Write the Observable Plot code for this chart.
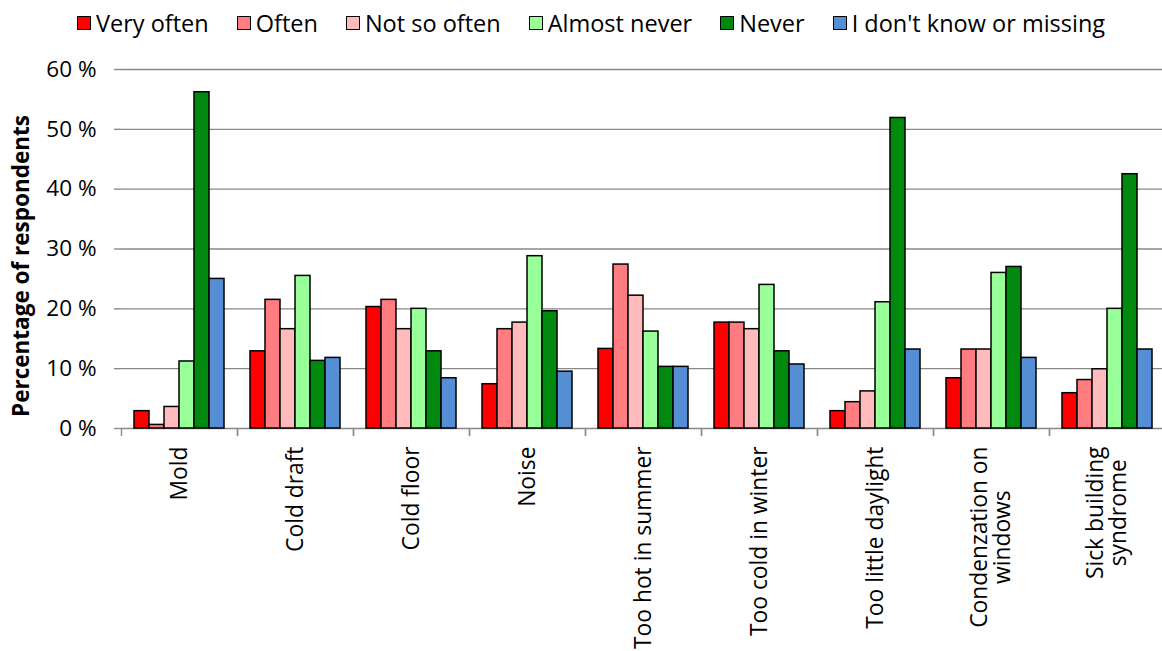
<!DOCTYPE html>
<html><head><meta charset="utf-8">
<script src="https://cdn.jsdelivr.net/npm/d3@7"></script>
<script src="https://cdn.jsdelivr.net/npm/@observablehq/plot@0.6"></script>
<style>
html,body{margin:0;padding:0;background:#fff;overflow:hidden;}
body{width:1162px;height:651px;position:relative;font-family:"Open Sans",sans-serif;}
#legend{position:absolute;left:77px;top:0;height:45px;display:flex;align-items:center;gap:28px;font-size:23.5px;color:#000;white-space:nowrap;}
.item{display:flex;align-items:center;gap:5px;}
.sw{width:12px;height:12px;border:1.5px solid #000;}
#ytitle{position:absolute;left:19.5px;top:266px;transform:translate(-50%,-50%) rotate(-90deg);font-weight:bold;font-size:22.5px;white-space:nowrap;}
#chart{position:absolute;left:0;top:45px;}
</style></head>
<body>
<div id="legend"></div>
<div id="ytitle">Percentage of respondents</div>
<div id="chart"></div>
<script>
const categories = ["Mold","Cold draft","Cold floor","Noise","Too hot in summer","Too cold in winter","Too little daylight","Condenzation on\nwindows","Sick building\nsyndrome"];
const series = ["Very often","Often","Not so often","Almost never","Never","I don't know or missing"];
const colors = ["#FF0000","#FF7C80","#FFBBBB","#99FF99","#00890F","#558ED5"];
const veryOften   = [2.9, 12.9, 20.3, 7.4, 13.3, 17.7, 2.9, 8.4, 5.9];
const often       = [0.6, 21.5, 21.5, 16.6, 27.4, 17.7, 4.4, 13.2, 8.1];
const notSoOften  = [3.6, 16.6, 16.6, 17.7, 22.2, 16.6, 6.2, 13.2, 9.9];
const almostNever = [11.2, 25.5, 20.0, 28.8, 16.2, 24.0, 21.1, 26.0, 20.0];
const never       = [56.2, 11.3, 12.9, 19.6, 10.3, 12.9, 51.9, 27.0, 42.5];
const missing     = [25.0, 11.8, 8.4, 9.5, 10.3, 10.7, 13.2, 11.8, 13.2];
const yTicks = [0, 10, 20, 30, 40, 50, 60];

const values = [veryOften, often, notSoOften, almostNever, never, missing];
const data = categories.flatMap((c, i) => series.map((s, j) => ({category: c, series: s, value: values[j][i]})));

// legend
const legend = document.getElementById("legend");
series.forEach((s, j) => {
  const it = document.createElement("div"); it.className = "item";
  const sw = document.createElement("div"); sw.className = "sw"; sw.style.background = colors[j];
  const tx = document.createElement("span"); tx.textContent = s;
  it.appendChild(sw); it.appendChild(tx); legend.appendChild(it);
});

const grid = "#888888";
const tickShape = {draw(context, l) { context.moveTo(0, 0); context.lineTo(0, -l); }};

const chart = Plot.plot({
  width: 1162, height: 606,
  marginTop: 24, marginBottom: 223, marginLeft: 117, marginRight: -6,
  style: {fontFamily: "'Open Sans', sans-serif", color: "#000", background: "transparent"},
  fx: {domain: categories, paddingInner: 0, paddingOuter: 0, label: null},
  x: {domain: series, paddingInner: 0, paddingOuter: 0.74, axis: null},
  y: {domain: [0, 60]},
  color: {domain: series, range: colors},
  marks: [
    Plot.ruleY(yTicks, {stroke: grid, strokeWidth: 1.4}),
    Plot.vector([0], {frameAnchor: "bottom-left", length: 7, rotate: 180, anchor: "start", shape: tickShape, stroke: grid, strokeWidth: 1.4}),
    Plot.vector([0], {frameAnchor: "bottom-right", length: 7, rotate: 180, anchor: "start", shape: tickShape, stroke: grid, strokeWidth: 1.4}),
    Plot.barY(data, {fx: "category", x: "series", y: "value", fill: "series", stroke: "#000", strokeWidth: 1.5}),
    Plot.axisY({ticks: yTicks, tickSize: 7, line: true, stroke: grid, strokeWidth: 1.4, text: null, label: null}),
    Plot.axisY({ticks: yTicks, tickFormat: d => `${d} %`, tickSize: 0, tickPadding: 25, fontSize: 22.5, label: null, fill: "#000"}),
    Plot.axisFx({anchor: "bottom", tickSize: 0, tickRotate: -90, tickPadding: 18, fontSize: 22.8, label: null})
  ]
});
document.getElementById("chart").appendChild(chart);

// center multi-line category labels on each other (as in the original)
d3.select(chart).selectAll("text").each(function() {
  const tspans = this.querySelectorAll("tspan");
  if (tspans.length > 1) {
    const L = d3.max(Array.from(tspans), t => t.getComputedTextLength());
    this.setAttribute("text-anchor", "middle");
    tspans.forEach(t => t.setAttribute("x", -L / 2));
  }
});
</script>
</body></html>
